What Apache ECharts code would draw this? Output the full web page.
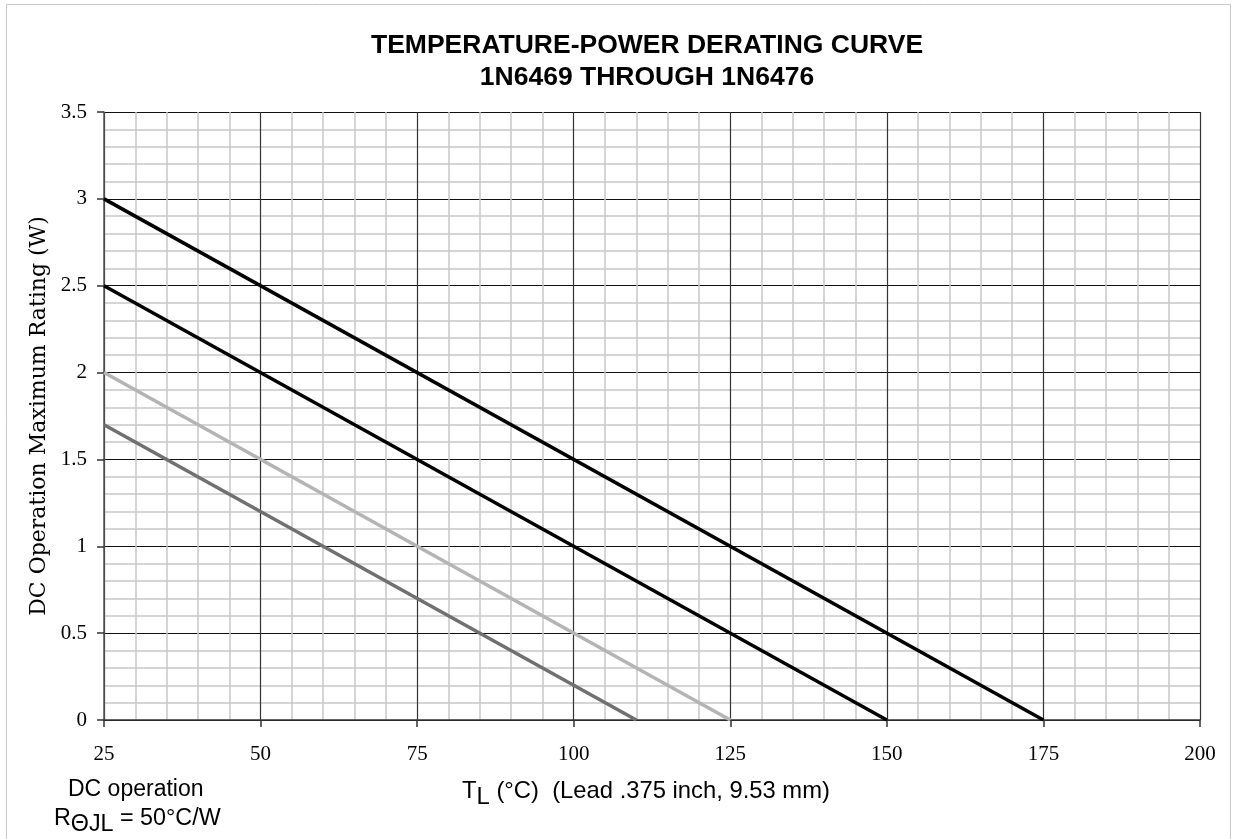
<!DOCTYPE html>
<html>
<head>
<meta charset="utf-8">
<script src="https://cdn.jsdelivr.net/npm/echarts@6/dist/echarts.min.js"></script>
<style>
    html, body { margin: 0; padding: 0; background: #fff; }
    #chart { width: 1236px; height: 839px; }
</style>
</head>
<body>
<div id="chart"></div>
<script>
    // power (W) vs lead temperature (deg C) for each derating line: start at 25 C, falls to 0
    var line3W = [[25, 3], [175, 0]];
    var line25W = [[25, 2.5], [150, 0]];
    var line2W = [[25, 2], [125, 0]];
    var line17W = [[25, 1.7], [110, 0]];
    var lineColors = ['#000000', '#000000', '#b4b4b4', '#707070'];

    var chart = echarts.init(document.getElementById('chart'));

    var serif = '"Liberation Serif", "DejaVu Serif", serif';
    var wideSerif = '"DejaVu Serif", serif';
    var sans = '"Liberation Sans", Arial, sans-serif';

    function mkLine(data, color) {
        return {
            type: 'line',
            data: data,
            symbol: 'none',
            lineStyle: { color: color, width: 3.5 },
            silent: true
        };
    }

    function richText(size) {
        return {
            n: { fontFamily: sans, fontSize: size, fontWeight: 'normal', color: '#000' },
            s: { fontFamily: sans, fontSize: size, fontWeight: 'normal', color: '#000', padding: [12, 0, 0, 0] }
        };
    }

    var option = {
        backgroundColor: '#fff',
        animation: false,
        title: [
            {
                text: 'TEMPERATURE-POWER DERATING CURVE\n1N6469 THROUGH 1N6476',
                left: 642, top: 25, textAlign: 'center',
                textStyle: { fontFamily: sans, fontSize: 26.5, fontWeight: 'bold', color: '#000', lineHeight: 32 }
            },
            {
                text: '{n|T}{s|L}{n| (°C)  (Lead .375 inch, 9.53 mm)}',
                left: 457, top: 768,
                textStyle: { rich: richText(23.8) }
            },
            {
                text: 'DC operation',
                left: 63, top: 773,
                textStyle: { fontFamily: sans, fontSize: 23, fontWeight: 'normal', color: '#000' }
            },
            {
                text: '{n|R}{s|ΘJL}{n| = 50°C/W}',
                left: 49, top: 796,
                textStyle: { rich: richText(23.3) }
            }
        ],
        graphic: [
            {
                type: 'rect',
                shape: { x: 6.5, y: 4.5, width: 1224, height: 840 },
                style: { fill: 'none', stroke: '#c8c8c8', lineWidth: 1 },
                silent: true
            }
        ],
        grid: { left: 104, right: 36, top: 112, bottom: 119 },
        xAxis: {
            type: 'value',
            min: 25, max: 200, interval: 25,
            axisLine: { show: true, lineStyle: { color: '#333', width: 1.5 } },
            axisTick: { show: true, length: 7, lineStyle: { color: '#333', width: 1.5 } },
            axisLabel: { fontFamily: serif, fontSize: 21, color: '#000', margin: 24 },
            splitLine: { show: true, lineStyle: { color: '#333', width: 1.2 } },
            minorTick: { show: false, splitNumber: 5 },
            minorSplitLine: { show: true, lineStyle: { color: '#c8c8c8', width: 1.5 } }
        },
        yAxis: {
            type: 'value',
            min: 0, max: 3.5, interval: 0.5,
            name: 'DC Operation Maximum Rating (W)',
            nameLocation: 'middle',
            nameGap: 54,
            nameTextStyle: { fontFamily: wideSerif, fontSize: 22, color: '#000' },
            axisLine: { show: true, lineStyle: { color: '#555', width: 1.5 } },
            axisTick: { show: true, length: 7, lineStyle: { color: '#333', width: 1.5 } },
            axisLabel: { fontFamily: serif, fontSize: 21, color: '#000', margin: 17 },
            splitLine: { show: true, lineStyle: { color: '#111', width: 1.2 } },
            minorTick: { show: false, splitNumber: 5 },
            minorSplitLine: { show: true, lineStyle: { color: '#c8c8c8', width: 1.5 } }
        },
        series: [
            mkLine(line3W, lineColors[0]),
            mkLine(line25W, lineColors[1]),
            mkLine(line2W, lineColors[2]),
            mkLine(line17W, lineColors[3])
        ]
    };

    chart.setOption(option);
</script>
</body>
</html>
